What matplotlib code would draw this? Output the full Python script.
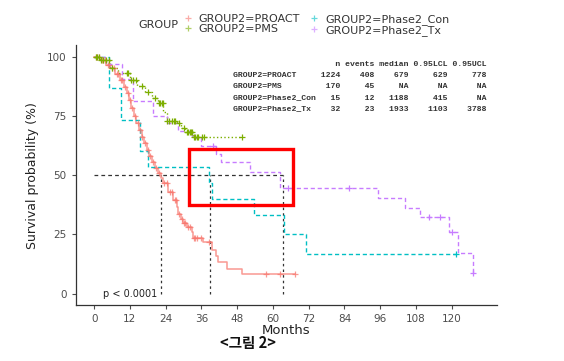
import matplotlib
matplotlib.use("Agg")
import matplotlib.pyplot as plt
from matplotlib.lines import Line2D
from matplotlib.patches import Rectangle
import numpy as np

plt.rcParams['font.family'] = ['DejaVu Sans', 'Noto Sans CJK KR']

# ---------------- data ----------------
groups = ["GROUP2=PROACT", "GROUP2=PMS", "GROUP2=Phase2_Con", "GROUP2=Phase2_Tx"]
colors = ["#F8766D", "#7CAE00", "#00BFC4", "#C77CFF"]

# survival step curves (months, %)
proact_t = [0, 2, 4, 5.3, 7, 8.6, 10, 10.9, 11.8, 12.5, 13.4, 14.2, 15, 15.9, 16.8, 17.6, 18.5,
            19.3, 20.4, 21.5, 22.3, 23.2, 24.8, 26.5, 27.7, 28.2, 29.0, 29.9, 31.0, 32.7, 33.2,
            36.6, 39.4, 40.9, 41.7, 44.5, 49.5, 67.4]
proact_s = [100, 98.5, 96.5, 95, 92.5, 90, 87, 84.5, 81.5, 78.2, 75, 72, 69, 66.2, 63.5, 60.6, 58,
            55.7, 53.2, 50.8, 49, 46.6, 43, 39.5, 36.7, 33.5, 31.5, 29.7, 28, 26.2, 23.4,
            21.9, 18.4, 15.9, 13.5, 10.4, 8.2, 8.2]
proact_cens = [0.5, 1, 1.5, 2.5, 3, 3.5, 4.5, 5, 6, 6.5, 7.5, 8, 9, 9.5, 10.5, 11.2, 12, 12.8,
               13.8, 14.6, 15.4, 16.2, 17.2, 18, 18.9, 19.8, 20.8, 21.8, 23.5, 24.3, 25.5, 26,
               27, 27.5, 28.6, 29.5, 30.2, 30.6, 31.5, 32, 33.5, 34, 34.5, 36, 38.5, 57.7, 62.4, 67.4]

pms_t = [0, 2, 5.3, 8, 12, 14.5, 17, 19.5, 21.5, 23.2, 24.3, 27.7, 29, 30.5, 33.2, 49.5]
pms_s = [100, 98.5, 95, 93, 90.2, 87.5, 85.2, 82.5, 80.3, 76.8, 72.9, 71.9, 70, 68.4, 66, 66]
pms_cens = [0.5, 1, 1.5, 2.2, 3, 4, 5, 6, 11, 11.5, 12.3, 13, 14, 16, 18, 20.5, 21.8, 22.2,
            22.6, 23, 24.6, 25.2, 26, 26.8, 27.2, 28.5, 30, 31, 31.5, 32, 32.5, 33, 33.5,
            34, 34.5, 35, 36.2, 37, 49.5]

con_t = [0, 4.9, 9.0, 15.3, 18.1, 38.6, 39.7, 53.6, 63.7, 71, 121.5]
con_s = [100, 86.7, 73.3, 60, 53.3, 46.7, 40, 33.3, 25, 16.7, 16.7]
con_cens = [121.5]

tx_t = [0, 4.0, 9.2, 13.1, 19.8, 24.5, 28, 33, 36, 41, 42.5, 52.3, 62.4, 95.4, 104.3, 109.4,
        119.1, 122.2, 127]
tx_s = [100, 96.9, 90.6, 81.3, 75, 71.9, 68.8, 65.6, 62.5, 59, 55.5, 51.5, 44.5, 40.5, 36.3,
        32.2, 26.2, 17.3, 8.6]
tx_cens = [40, 65, 85.6, 112.4, 116, 120.2, 127]

# summary table
tab_n = [1224, 170, 15, 32]
tab_events = [408, 45, 12, 23]
tab_median = ["679", "NA", "1188", "1933"]
tab_lcl = ["629", "NA", "415", "1103"]
tab_ucl = ["778", "NA", "NA", "3788"]

days_per_month = 30.4375
x_ticks = [0, 12, 24, 36, 48, 60, 72, 84, 96, 108, 120]
y_ticks = [0, 25, 50, 75, 100]

# ---------------- figure ----------------
W, H = 564, 361
fig = plt.figure(figsize=(W / 100, H / 100), dpi=100)
fig.patch.set_facecolor("white")
def fx(px): return px / W
def fy(py): return 1 - py / H

ax = fig.add_axes([fx(75.7), fy(305.3), (497 - 75.7) / W, (305.3 - 45) / H])
ax.set_xlim(-6.2, 135.2)
ax.set_ylim(-4.9, 104.9)

curves = [(proact_t, proact_s, proact_cens, "-", 1.1, 0.75),
          (pms_t, pms_s, pms_cens, ":", 1.0, 1.0),
          (con_t, con_s, con_cens, (0, (3, 2)), 1.0, 1.0),
          (tx_t, tx_s, tx_cens, (0, (3, 2)), 1.0, 1.0)]

for (t, s, c, ls, lw, al), col in zip(curves, colors):
    ax.step(t, s, where="post", color=col, ls=ls, lw=lw, alpha=al, zorder=3)
    t_arr = np.array(t); s_arr = np.array(s)
    cy = [s_arr[np.searchsorted(t_arr, ct, side="right") - 1] for ct in c]
    ax.plot(c, cy, ls="none", marker="+", ms=5, mew=0.9, color=col, alpha=al, zorder=4)

# median lines
med_months = [int(m) / days_per_month for m in tab_median if m != "NA"]
ax.plot([0, max(med_months)], [50, 50], color="#333333", ls=(0, (3, 2.5)), lw=0.9, zorder=2)
for m in med_months:
    ax.plot([m, m], [0, 50], color="#333333", ls=(0, (2, 2.5)), lw=0.9, zorder=2)

ax.text(2.8, 0, "p < 0.0001", fontsize=7, color="#222222", va="center", ha="left")

ax.set_xticks(x_ticks)
ax.set_yticks(y_ticks)
ax.tick_params(axis="both", colors="#4D4D4D", labelsize=7.5, length=3, width=0.8)
for sp in ["top", "right"]:
    ax.spines[sp].set_visible(False)
for sp in ["left", "bottom"]:
    ax.spines[sp].set_color("#333333")
    ax.spines[sp].set_linewidth(0.9)
ax.set_xlabel("Months", fontsize=9.5, color="#222222", labelpad=0)
ax.set_ylabel("Survival probability (%)", fontsize=9, color="#222222", labelpad=6)

# legend
handles = [Line2D([], [], ls="none", marker="+", ms=5, mew=0.9, color=c, alpha=0.6) for c in colors]
leg = fig.legend(handles, groups, ncol=2, loc="upper left", bbox_to_anchor=(fx(182), fy(14)),
                 frameon=False, fontsize=8, handlelength=1.0, handletextpad=0.5,
                 columnspacing=0.8, labelspacing=0.0, borderpad=0, borderaxespad=0)
for txt in leg.get_texts():
    txt.set_color("#333333")
fig.text(fx(178), fy(25), "GROUP", ha="right", va="center", fontsize=8, color="#333333")

# table text
header = " " * 17 + "{:>5}{:>7}{:>7}{:>8}{:>8}".format("n", "events", "median", "0.95LCL", "0.95UCL")
lines = [header]
for g, n, e, md, l, u in zip(groups, tab_n, tab_events, tab_median, tab_lcl, tab_ucl):
    lines.append("{:<17}{:>5}{:>7}{:>7}{:>8}{:>8}".format(g, n, e, md, l, u))
row_y = [65, 75.7, 86.7, 97.7, 109]
for ln, yy in zip(lines, row_y):
    fig.text(fx(233.3), fy(yy), ln, ha="left", va="center", fontsize=5.9,
             family="Liberation Mono", fontweight="bold", color="#333333")

# red highlight box
fig.add_artist(Rectangle((fx(189.3), fy(205)), (293.3 - 189.3) / W, (205 - 149.3) / H,
                         transform=fig.transFigure, fill=False, edgecolor="#FF0000", lw=2.4))

fig.text(fx(248), fy(343), "<그림 2>", ha="center", va="center", fontsize=10.5,
         fontweight="bold", family=["Noto Sans CJK KR", "DejaVu Sans"], color="#111111")

fig.savefig("out.png", dpi=100)
